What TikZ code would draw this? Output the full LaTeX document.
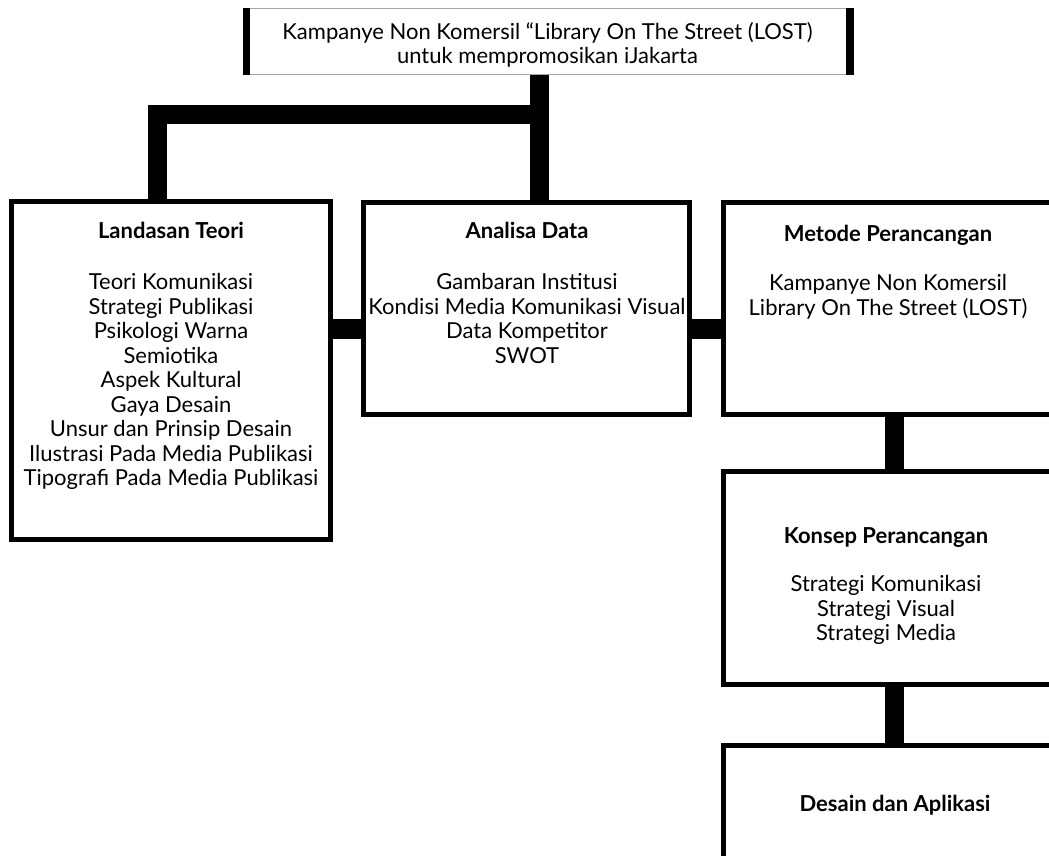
\documentclass[tikz,border=0pt]{standalone}
\usepackage{fontspec}
\setmainfont{Lato}
\begin{document}
\begin{tikzpicture}[x=1pt,y=-1pt,
  box/.style={draw,line width=5pt,fill=white,inner sep=0pt},
  conn/.style={line width=19pt},
  txt/.style={align=center,inner sep=0pt,anchor=north,font=\fontsize{22}{24.5}\selectfont},
  toptxt/.style={align=center,inner sep=0pt,anchor=north,font=\fontsize{22}{22}\selectfont}]
\useasboundingbox (0,0) rectangle (1049,856);
\clip (0,0) rectangle (1049,856);
% boxes
\node[draw=gray!70,line width=1pt,fill=white,inner sep=0pt,minimum width=610pt,minimum height=66pt] (top) at (548.5,41.5) {};
\fill (top.north west) rectangle ([xshift=7pt]top.south west);
\fill ([xshift=-8pt]top.north east) rectangle (top.south east);
\node[box,minimum width=319pt,minimum height=338pt] (land) at (171,370.5) {};
\node[box,minimum width=326pt,minimum height=212pt] (ana) at (526.5,308.5) {};
\node[box,minimum width=354pt,minimum height=212pt] (met) at (900.5,308.5) {};
\node[box,minimum width=354pt,minimum height=213pt] (kon) at (900.5,578) {};
\node[box,minimum width=354pt,minimum height=114pt] (des) at (900.5,802.5) {};
% connectors
\coordinate (j) at (539.5,114.5);
\coordinate (s) at (157,114.5);
\draw[conn] (top.south -| j) -- (ana.north -| j);
\draw[conn] (j) -- (s) -- (land.north -| s);
\coordinate (h) at (0,329);
\draw[line width=20pt] (land.east |- h) -- (ana.west |- h);
\draw[line width=20pt] (ana.east |- h) -- (met.west |- h);
\coordinate (v) at (894.5,0);
\draw[conn] (met.south -| v) -- (kon.north -| v);
\draw[conn] (kon.south -| v) -- (des.north -| v);
% texts
\node[toptxt] (topT) at (547.5,22) {\strut Kampanye Non Komersil “Library On The Street (LOST)\\untuk mempromosikan iJakarta};
\node[txt] (landT) at (171,221) {\strut\textbf{Landasan Teori}\\[27pt]Teori Komunikasi\\Strategi Publikasi\\Psikologi Warna\\Semiotika\\Aspek Kultural\\Gaya Desain\\Unsur dan Prinsip Desain\\Ilustrasi Pada Media Publikasi\\Tipografi Pada Media Publikasi};
\node[txt] (anaT) at (527,221) {\strut\textbf{Analisa Data}\\[27pt]Gambaran Institusi\\Kondisi Media Komunikasi Visual\\Data Kompetitor\\SWOT};
\node[txt] (metT) at (888,224) {\strut\textbf{Metode Perancangan}\\[25pt]Kampanye Non Komersil\\Library On The Street (LOST)};
\node[txt] (konT) at (886,526) {\strut\textbf{Konsep Perancangan}\\[24pt]Strategi Komunikasi\\Strategi Visual\\Strategi Media};
\node[txt] (desT) at (895,794) {\strut\textbf{Desain dan Aplikasi}};
\end{tikzpicture}
\end{document}
